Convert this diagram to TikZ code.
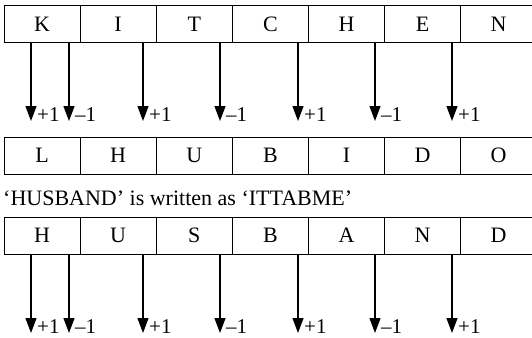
\documentclass[tikz,border=0pt]{standalone}
\usepackage{fontspec}
\setmainfont{Liberation Serif}
\usetikzlibrary{arrows.meta}
\begin{document}
\begin{tikzpicture}[x=1pt,y=-1pt,
  cellbox/.style={draw,line width=1pt,minimum width=76.1pt,minimum height=37pt,inner sep=0pt,outer sep=0pt,anchor=north west,font=\fontsize{22}{22}\selectfont},
  shiftarrow/.style={line width=1.2pt,-{Triangle[width=11pt,length=15pt]}},
  lab/.style={anchor=base west,inner sep=0pt,font=\fontsize{21}{21}\selectfont},
  sentence/.style={anchor=base west,inner sep=0pt,font=\fontsize{22}{22}\selectfont}]
\useasboundingbox (0,0) rectangle (532,337);
\clip (0,0) rectangle (532,337);
% row 1
\foreach \t [count=\i] in {K,I,T,C,H,E,N}{
  \node[cellbox] (a\i) at ({4+(\i-1)*76.1},6) {\t};
}
% row 2
\foreach \t [count=\i] in {L,H,U,B,I,D,O}{
  \node[cellbox] (b\i) at ({4+(\i-1)*76.1},137) {\t};
}
\node[sentence] (s) at (3,205) {‘HUSBAND’ is written as ‘ITTABME’};
% row 3
\foreach \t [count=\i] in {H,U,S,B,A,N,D}{
  \node[cellbox] (c\i) at ({4+(\i-1)*76.1},217) {\t};
}
% arrows row 1
\foreach \x/\l [count=\k] in {31/+1,69/–1,143/+1,220/–1,298/+1,375/–1,452/+1}{
  \coordinate (p\k) at (\x,43);
  \coordinate (q\k) at (\x,121);
  \draw[shiftarrow] (p\k) -- (q\k);
  \node[lab] (l\k) at (\x+6,121) {\l};
}
% arrows row 3
\foreach \x/\l [count=\k] in {31/+1,69/–1,143/+1,220/–1,298/+1,375/–1,452/+1}{
  \coordinate (r\k) at (\x,254);
  \coordinate (t\k) at (\x,333);
  \draw[shiftarrow] (r\k) -- (t\k);
  \node[lab] (m\k) at (\x+6,333) {\l};
}
\end{tikzpicture}
\end{document}
